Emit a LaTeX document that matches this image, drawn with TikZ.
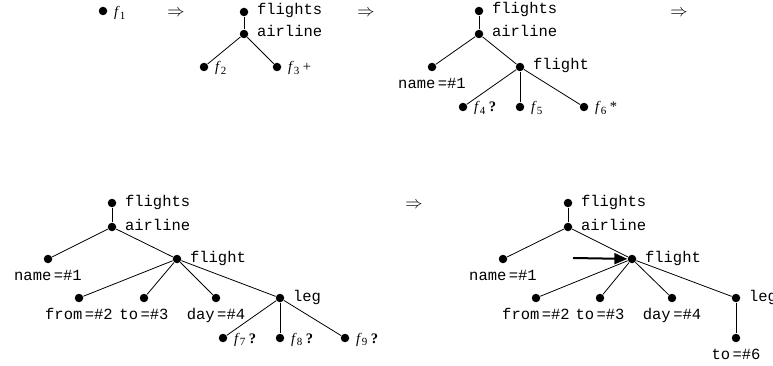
\documentclass[tikz,border=0pt]{standalone}
\usepackage{fontspec}
\setmainfont{Liberation Serif}
\setmonofont{Liberation Mono}
\usetikzlibrary{arrows.meta}

\newcommand{\teq}{\hspace{2.5pt}=}
\newcommand{\fsub}[1]{\textit{f}\raisebox{-2.5pt}{\fontsize{11}{12}\selectfont#1}}

\begin{document}
\begin{tikzpicture}[x=1pt,y=-1pt,line width=0.8pt,label distance=5pt,
  dot/.style={circle,fill,inner sep=0pt,minimum size=8.5pt},
  tt/.style={font=\fontsize{15.5}{18}\ttfamily,text height=8pt,text depth=2pt,inner sep=3pt},
  fl/.style={font=\fontsize{14.5}{16}\selectfont,inner sep=1pt,anchor=base west,yshift=-5pt},
  imp/.style={font=\fontsize{18}{20}\selectfont,inner sep=0pt,anchor=base},
  pointer/.style={-{Triangle[length=13pt,width=11pt]},line width=2pt}]
\useasboundingbox (0,0) rectangle (773,366);

% steps (placed at the baseline)
\node[imp] (imp1) at (176,16.5) {$\Rightarrow$};
\node[imp] (imp2) at (366,16.5) {$\Rightarrow$};
\node[imp] (imp3) at (679,16.5) {$\Rightarrow$};
\node[imp] (imp4) at (414,208.5) {$\Rightarrow$};

% first tree
\node[dot,label={[fl,yshift=-1pt]right:\fsub{1}}] (f1) at (103,11) {};

% second tree
\node[dot,label={[tt]right:flights}] (Aflights) at (244,12) {};
\node[dot,label={[tt]right:airline}] (Aairline) at (244,34) {};
\node[dot,label={[fl]right:\fsub{2}}] (Af2) at (204,67) {};
\node[dot,label={[fl]right:\fsub{3} +}] (Af3) at (277,67) {};
\draw (Aflights) -- (Aairline);
\draw (Aairline) -- (Af2);
\draw (Aairline) -- (Af3);

% third tree
\node[dot,label={[tt]right:flights}] (Bflights) at (479,11) {};
\node[dot,label={[tt]right:airline}] (Bairline) at (479,34) {};
\node[dot,label={[tt]below:name\teq\#1}] (Bname) at (432,67) {};
\node[dot,label={[tt]right:flight}] (Bflight) at (520,67) {};
\node[dot,label={[fl]right:\fsub{4} \textbf{?}}] (Bf4) at (463,107) {};
\node[dot,label={[fl]right:\fsub{5}}] (Bf5) at (520,107) {};
\node[dot,label={[fl]right:\fsub{6} *}] (Bf6) at (584,107) {};
\draw (Bflights) -- (Bairline);
\draw (Bairline) -- (Bname);
\draw (Bairline) -- (Bflight);
\draw (Bflight) -- (Bf4);
\draw (Bflight) -- (Bf5);
\draw (Bflight) -- (Bf6);

% fourth tree
\node[dot,label={[tt]right:flights}] (Cflights) at (112,203) {};
\node[dot,label={[tt]right:airline}] (Cairline) at (112,227) {};
\node[dot,label={[tt]below:name\teq\#1}] (Cname) at (48,259) {};
\node[dot,label={[tt]right:flight}] (Cflight) at (177,259) {};
\node[dot,label={[tt]below:from\teq\#2}] (Cfrom) at (79,298) {};
\node[dot,label={[tt]below:to\teq\#3}] (Cto) at (144,298) {};
\node[dot,label={[tt]below:day\teq\#4}] (Cday) at (216,298) {};
\node[dot,label={[tt]right:leg}] (Cleg) at (280,298) {};
\node[dot,label={[fl]right:\fsub{7} \textbf{?}}] (Cf7) at (223,338) {};
\node[dot,label={[fl]right:\fsub{8} \textbf{?}}] (Cf8) at (280,338) {};
\node[dot,label={[fl]right:\fsub{9} \textbf{?}}] (Cf9) at (345,338) {};
\draw (Cflights) -- (Cairline);
\draw (Cairline) -- (Cname);
\draw (Cairline) -- (Cflight);
\draw (Cflight) -- (Cfrom);
\draw (Cflight) -- (Cto);
\draw (Cflight) -- (Cday);
\draw (Cflight) -- (Cleg);
\draw (Cleg) -- (Cf7);
\draw (Cleg) -- (Cf8);
\draw (Cleg) -- (Cf9);

% fifth tree
\node[dot,label={[tt]right:flights}] (Dflights) at (568,203) {};
\node[dot,label={[tt]right:airline}] (Dairline) at (568,227) {};
\node[dot,label={[tt]below:name\teq\#1}] (Dname) at (503,259) {};
\node[dot,label={[tt]right:flight}] (Dflight) at (632,259) {};
\node[dot,label={[tt]below:from\teq\#2}] (Dfrom) at (536,298) {};
\node[dot,label={[tt]below:to\teq\#3}] (Dto) at (600,298) {};
\node[dot,label={[tt]below:day\teq\#4}] (Dday) at (672,298) {};
\node[dot,label={[tt]right:leg}] (Dleg) at (736,298) {};
\node[dot,label={[tt]below:to\teq\#6}] (Dto6) at (736,338) {};
\coordinate (Dptr) at (573,258);
\draw (Dflights) -- (Dairline);
\draw (Dairline) -- (Dname);
\draw (Dairline) -- (Dflight);
\draw (Dflight) -- (Dfrom);
\draw (Dflight) -- (Dto);
\draw (Dflight) -- (Dday);
\draw (Dflight) -- (Dleg);
\draw (Dleg) -- (Dto6);
\draw[pointer] (Dptr) -- (Dflight);
\end{tikzpicture}
\end{document}
